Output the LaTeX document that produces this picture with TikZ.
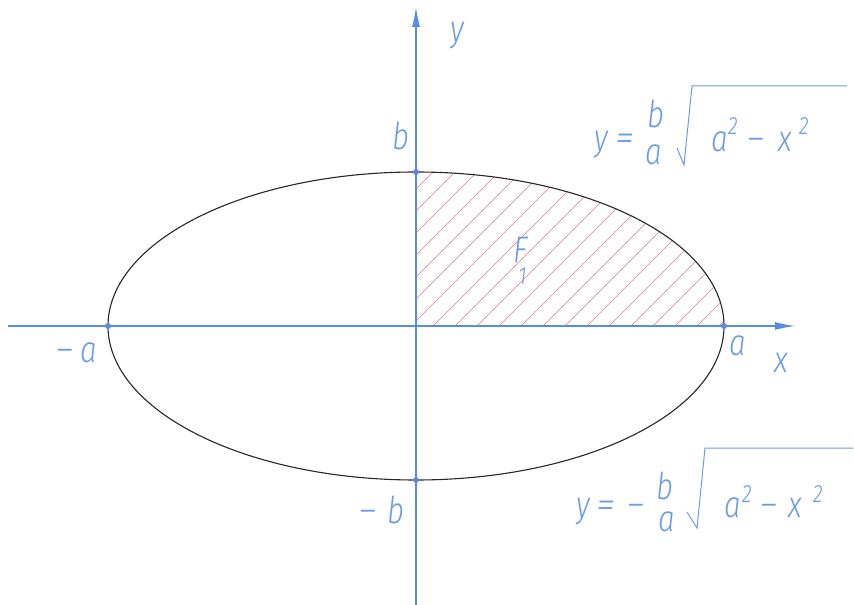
\documentclass[tikz,border=0pt]{standalone}
\usepackage{fontspec}
\setmainfont{Fira Sans}[UprightFont=* Light, ItalicFont=* Light Italic, FakeStretch=0.8]
\usetikzlibrary{arrows.meta}
\definecolor{axisblue}{RGB}{88,140,228}
\definecolor{textblue}{RGB}{105,155,232}
\definecolor{hatchred}{RGB}{226,120,132}
\newcommand\wideop[1]{\scalebox{1.3}[1]{#1}}
\begin{document}
\begin{tikzpicture}[x=1pt,y=1pt,
  axisline/.style={draw=axisblue,line width=1.3pt,-{Latex[length=20pt,width=8pt]}},
  lab/.style={text=textblue,font=\fontsize{37}{37}\selectfont\itshape,inner sep=0pt,anchor=base},
  small/.style={lab,font=\fontsize{25}{25}\selectfont\itshape},
  radical/.style={draw=textblue,line width=1pt,line join=miter},
  hatch/.style={draw=hatchred,line width=0.6pt},
  dot/.style={fill=axisblue}]
\useasboundingbox (-416,-279) rectangle (438,326);
% hatching
\begin{scope}
  \clip (0,0) -- (308,0) arc[start angle=0,end angle=90,x radius=308,y radius=154] -- cycle;
  \foreach \k in {-8,...,13}{
    \pgfmathsetmacro\c{17+22*\k}
    \draw[hatch] (\c,0) -- ++(170,170);
  }
\end{scope}
% ellipse
\draw[line width=1.1pt,black!85] (0,0) ellipse[x radius=308,y radius=154];
% axes
\coordinate (xs) at (-408,0);
\coordinate (xe) at (379,0);
\coordinate (ys) at (0,-279);
\coordinate (ye) at (0,319);
\draw[axisline] (xs) -- (xe);
\draw[axisline] (ys) -- (ye);
% points
\fill[dot] (308,0) circle (3);
\fill[dot] (-308,0) circle (3);
\fill[dot] (0,154) circle (3);
\fill[dot] (0,-154) circle (3);
% labels
\node[lab] (ylab) at (41,284) {y};
\node[lab] (xlab) at (365,-46) {x};
\node[lab] (blab) at (-15.5,176) {b};
\node[lab] (mbm) at (-48,-197) {\wideop{−}};
\node[lab] (mblab) at (-20,-197) {b};
\node[lab] (alab) at (321.5,-29) {a};
\node[lab] (mam) at (-351,-37) {\wideop{−}};
\node[lab] (malab) at (-327.5,-37) {a};
\node[lab] (F) at (105,63) {F};
\node[small] (F1) at (106.5,41) {1};
% formula 1
\node[lab] (f1y) at (185,175) {y};
\node[lab] (f1eq) at (209,175) {\wideop{=}};
\node[lab] (f1b) at (240,198) {b};
\node[lab] (f1a) at (238,161) {a};
\draw[radical] (261,178) -- (268,161) -- (276,240) -- (431,240);
\node[lab] (f1ra) at (303.5,174) {a};
\node[small] (f1r2) at (317,191) {2};
\node[lab] (f1rm) at (340,174) {\wideop{−}};
\node[lab] (f1rx) at (369.5,174) {x};
\node[small] (f1x2) at (388,191) {2};
% formula 2
\node[lab] (f2y) at (167,-191) {y};
\node[lab] (f2eq) at (190,-191) {\wideop{=}};
\node[lab] (f2m) at (220,-191) {\wideop{−}};
\node[lab] (f2b) at (249,-173) {b};
\node[lab] (f2a) at (250.5,-205) {a};
\draw[radical] (271,-186) -- (281,-202) -- (289,-122) -- (437,-122);
\node[lab] (f2ra) at (316.5,-191) {a};
\node[small] (f2r2) at (331,-176) {2};
\node[lab] (f2rm) at (352.5,-191) {\wideop{−}};
\node[lab] (f2rx) at (379,-191) {x};
\node[small] (f2x2) at (402,-176) {2};
\end{tikzpicture}
\end{document}
